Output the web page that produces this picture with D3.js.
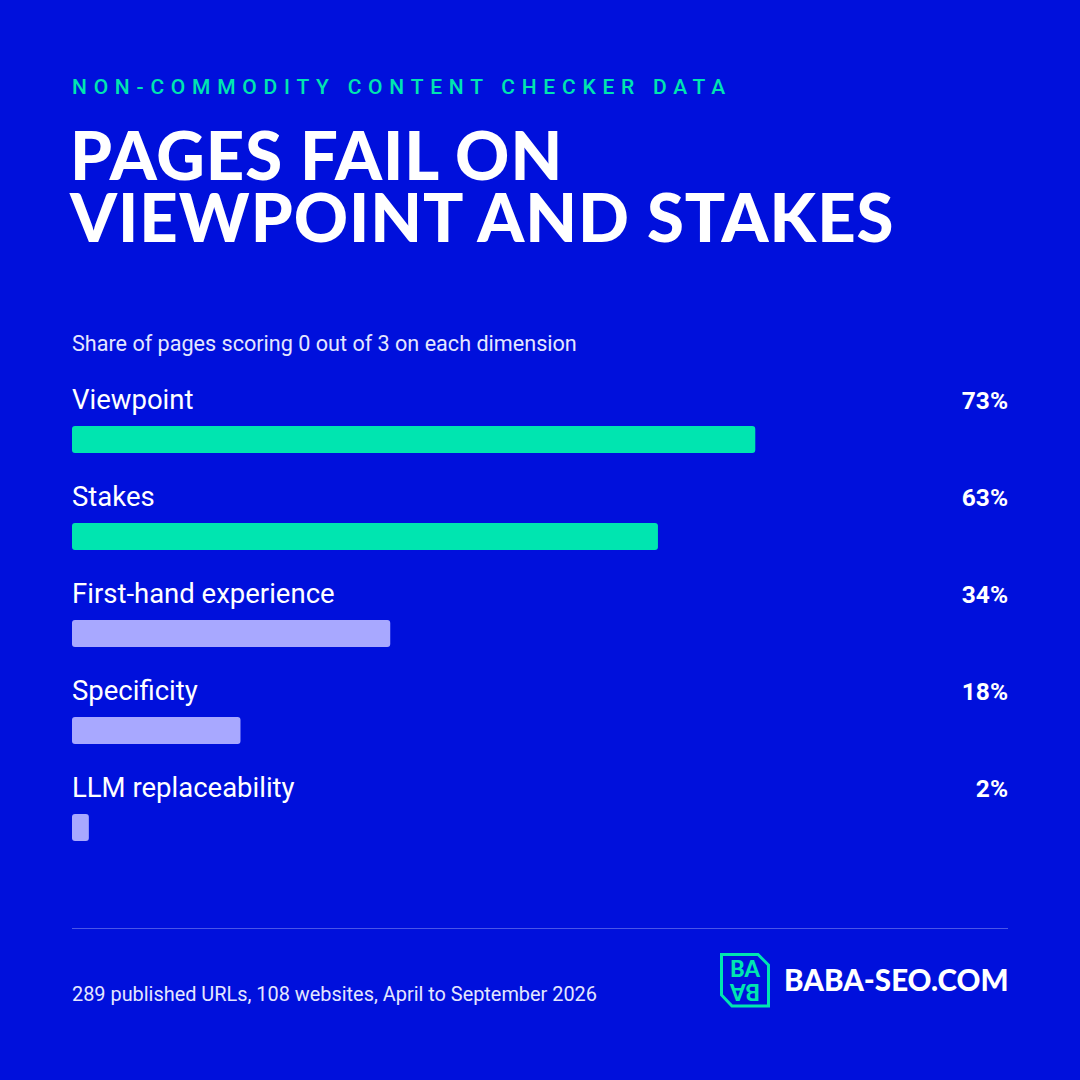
<!DOCTYPE html>
<html><head><meta charset="utf-8">
<script src="https://cdn.jsdelivr.net/npm/d3@7"></script>
<style>body{margin:0;background:#0010DC}svg{display:block}</style>
</head><body>
<svg id="c" width="1080" height="1080"></svg>
<script>
const categories = ["Viewpoint","Stakes","First-hand experience","Specificity","LLM replaceability"];
const values = [73,62.6,34,18,1.8];
const highlight = [true,true,false,false,false];
const labels = ["73%","63%","34%","18%","2%"];

const svg = d3.select("#c");
const W=1080, bg="#0010DC", green="#00E5B0", lav="#A8A8FF";
svg.append("rect").attr("width",W).attr("height",W).attr("fill",bg);

svg.append("text").attr("x",72).attr("y",94).text("NON-COMMODITY CONTENT CHECKER DATA")
  .attr("fill",green).attr("font-family","Roboto").attr("font-weight",500).attr("font-size",21).attr("letter-spacing",6.75);
const tl = ["PAGES FAIL ON","VIEWPOINT AND STAKES"];
tl.forEach((t,i)=>svg.append("text").attr("x",70).attr("y",180+62*i).text(t)
  .attr("fill","#fff").attr("font-family","Lato").attr("font-weight",900).attr("font-size",67).attr("letter-spacing",1));

svg.append("text").attr("x",72).attr("y",351).text("Share of pages scoring 0 out of 3 on each dimension")
  .attr("fill","#E4E6FF").attr("font-family","Roboto").attr("font-size",21.6);

const x = d3.scaleLinear().domain([0,100]).range([72,1008]);
const y = d3.scaleBand().domain(categories).range([375,860]).paddingInner(0).paddingOuter(0);
const g = svg.selectAll("g.row").data(categories).join("g").attr("class","row")
  .attr("transform",d=>`translate(0,${y(d)})`);
g.append("text").attr("x",72).attr("y",34).text(d=>d).attr("fill","#fff")
  .attr("font-family","Roboto").attr("font-size",27.5);
g.append("text").attr("x",1008).attr("y",34).attr("text-anchor","end").text((d,i)=>labels[i])
  .attr("fill","#fff").attr("font-family","Roboto").attr("font-weight",700).attr("font-size",24.5);
g.append("rect").attr("x",x(0)).attr("y",51).attr("height",27).attr("rx",3)
  .attr("width",(d,i)=>x(values[i])-x(0)).attr("fill",(d,i)=>highlight[i]?green:lav);

svg.append("line").attr("x1",72).attr("x2",1008).attr("y1",928.5).attr("y2",928.5).attr("stroke","#4a55e8").attr("stroke-width",1);
svg.append("text").attr("x",72).attr("y",1001).text("289 published URLs, 108 websites, April to September 2026")
  .attr("fill","#E4E6FF").attr("font-family","Roboto").attr("font-size",19.9);

// logo
const lg = svg.append("g").attr("transform","translate(720,953)");
lg.append("path").attr("d","M1.5,1.5 H38 L48.5,12 V53 H12 L1.5,42 Z").attr("fill","none").attr("stroke",green).attr("stroke-width",3);
lg.append("text").attr("x",25).attr("y",24).attr("text-anchor","middle").text("BA").attr("fill",green)
  .attr("font-family","Lato").attr("font-weight",900).attr("font-size",22);
lg.append("text").attr("transform","translate(25,31) rotate(180)").attr("text-anchor","middle").text("BA").attr("fill",green)
  .attr("font-family","Lato").attr("font-weight",900).attr("font-size",22);
svg.append("text").attr("x",784).attr("y",991).text("BABA-SEO.COM").attr("fill","#fff")
  .attr("font-family","Lato").attr("font-weight",900).attr("font-size",29.5);
</script></body></html>
